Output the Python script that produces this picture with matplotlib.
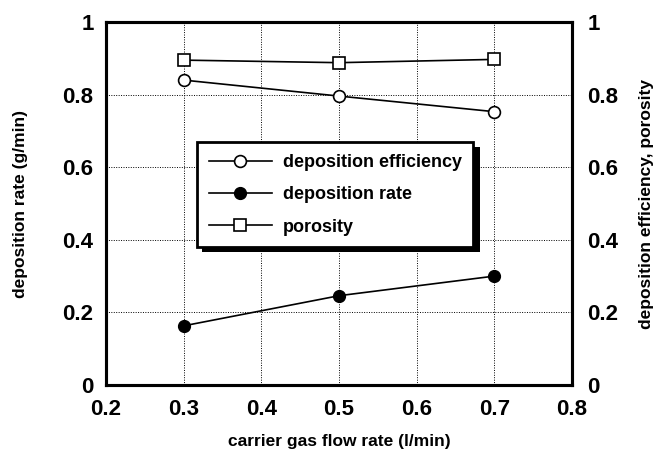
import matplotlib
matplotlib.use("Agg")
import matplotlib.pyplot as plt
from matplotlib.patches import Rectangle

plt.rcParams['font.family'] = ['Liberation Sans', 'DejaVu Sans']

flow_rate = [0.3, 0.5, 0.7]
deposition_efficiency = [0.84, 0.796, 0.753]
deposition_rate = [0.163, 0.246, 0.300]
porosity = [0.895, 0.888, 0.897]

x_ticks = [0.2, 0.3, 0.4, 0.5, 0.6, 0.7, 0.8]
x_tick_labels = ["0.2", "0.3", "0.4", "0.5", "0.6", "0.7", "0.8"]
y_ticks = [0, 0.2, 0.4, 0.6, 0.8, 1]
y_tick_labels = ["0", "0.2", "0.4", "0.6", "0.8", "1"]

fig = plt.figure(figsize=(6.58, 4.53), dpi=100)
ax = fig.add_axes([0.1611, 0.1501, 0.7082, 0.8013])
ax2 = ax.twinx()

for a in (ax, ax2):
    a.set_xlim(0.2, 0.8)
    a.set_ylim(0, 1)
    for s in a.spines.values():
        s.set_linewidth(2.2)
    a.tick_params(length=0)

tick_font = 16
ax.set_xticks(x_ticks)
ax.set_xticklabels(x_tick_labels, fontsize=tick_font, fontweight='bold')
ax.set_yticks(y_ticks)
ax.set_yticklabels(y_tick_labels, fontsize=tick_font, fontweight='bold')
ax2.set_yticks(y_ticks)
ax2.set_yticklabels(y_tick_labels, fontsize=tick_font, fontweight='bold')
ax.tick_params(axis='x', pad=10)
ax.tick_params(axis='y', pad=9)
ax2.tick_params(axis='y', pad=11)

ax.grid(True, linestyle=(0, (1, 1.5)), color='black', linewidth=0.7)

label_font = 12.5
ax.set_xlabel("carrier gas flow rate (l/min)", fontsize=label_font,
              fontweight='bold', labelpad=10)
ax.set_ylabel("deposition rate (g/min)", fontsize=label_font,
              fontweight='bold', labelpad=25)
ax2.set_ylabel("deposition efficiency, porosity", fontsize=label_font,
               fontweight='bold', labelpad=15)

ms = 8.5
h_rate, = ax.plot(flow_rate, deposition_rate, color='black', linewidth=1.2,
                  marker='o', markersize=ms, markerfacecolor='black',
                  markeredgecolor='black', label='deposition rate')
h_eff, = ax2.plot(flow_rate, deposition_efficiency, color='black', linewidth=1.2,
                  marker='o', markersize=ms, markerfacecolor='white',
                  markeredgecolor='black', markeredgewidth=1.2,
                  label='deposition efficiency')
h_por, = ax2.plot(flow_rate, porosity, color='black', linewidth=1.2,
                  marker='s', markersize=ms - 0.5, markerfacecolor='white',
                  markeredgecolor='black', markeredgewidth=1.2, label='porosity')

leg = ax2.legend([h_eff, h_rate, h_por],
                 ['deposition efficiency', 'deposition rate', 'porosity'],
                 loc='upper left', bbox_to_anchor=(0.195, 0.669),
                 prop={'size': 13, 'weight': 'bold'},
                 fancybox=False, framealpha=1, edgecolor='black',
                 handlelength=3.5, handletextpad=0.6, labelspacing=0.85,
                 borderpad=0.65, borderaxespad=0)
leg.get_frame().set_linewidth(2)
leg.set_zorder(10)

fig.canvas.draw()
bb = leg.get_window_extent()
shadow = Rectangle((bb.x0 + 5, bb.y0 - 5), bb.width + 2, bb.height,
                   transform=None, facecolor='black', edgecolor='none', zorder=9)
ax2.add_artist(shadow)

fig.savefig("out.png", dpi=100)
